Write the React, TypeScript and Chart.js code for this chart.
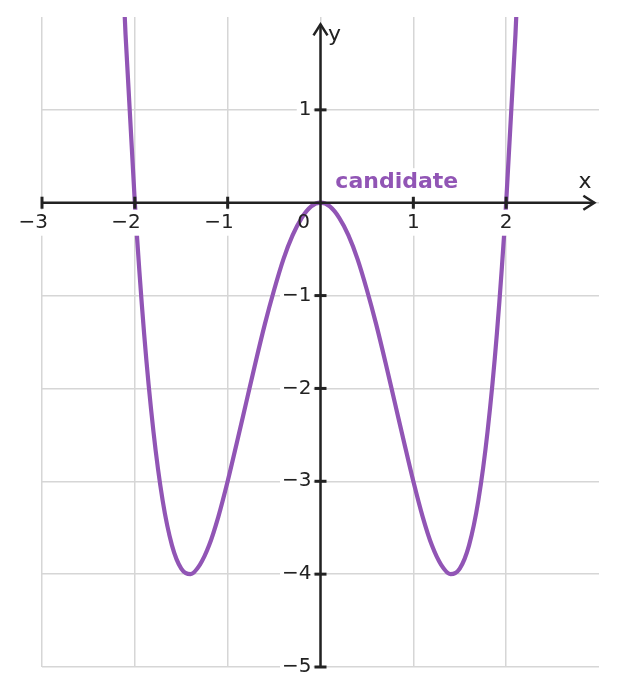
import React, { useEffect, useRef } from "react";
import { Chart, registerables } from "chart.js";

Chart.register(...registerables);

const xValues = [
  -2.2, -2.1, -2.0, -1.9, -1.8, -1.7, -1.6, -1.5, -1.4, -1.3, -1.2, -1.1, -1.0,
  -0.9, -0.8, -0.7, -0.6, -0.5, -0.4, -0.3, -0.2, -0.1, 0.0, 0.1, 0.2, 0.3, 0.4,
  0.5, 0.6, 0.7, 0.8, 0.9, 1.0, 1.1, 1.2, 1.3, 1.4, 1.5, 1.6, 1.7, 1.8, 1.9, 2.0,
  2.1, 2.2,
];
const yValues = [
  4.07, 1.81, 0.0, -1.41, -2.46, -3.21, -3.69, -3.94, -4.0, -3.9, -3.69, -3.38,
  -3.0, -2.58, -2.15, -1.72, -1.31, -0.94, -0.61, -0.35, -0.16, -0.04, 0.0,
  -0.04, -0.16, -0.35, -0.61, -0.94, -1.31, -1.72, -2.15, -2.58, -3.0, -3.38,
  -3.69, -3.9, -4.0, -3.94, -3.69, -3.21, -2.46, -1.41, 0.0, 1.81, 4.07,
];
const xTicks = [-3, -2, -1, 0, 1, 2];
const yTicks = [-5, -4, -3, -2, -1, 0, 1];
const xTickLabels = ["−3", "−2", "−1", "0", "1", "2"];
const yTickLabels = ["−5", "−4", "−3", "−2", "−1", "0", "1"];
const seriesName = "candidate";
const xRange = [-3, 3];
const yRange = [-5, 2];

const PURPLE = "#9155b5";
const INK = "#222222";
const FONT = "'DejaVu Sans', sans-serif";

function textWithBg(ctx: CanvasRenderingContext2D, text: string, x: number, y: number, align: CanvasTextAlign, font: string, color: string, bg = true) {
  ctx.font = font;
  ctx.textAlign = align;
  ctx.textBaseline = "middle";
  const m = ctx.measureText(text);
  const w = m.width;
  const h = parseInt(font.match(/(\d+)px/)![1], 10);
  let left = x;
  if (align === "center") left = x - w / 2;
  else if (align === "right") left = x - w;
  const pad = 2;
  if (bg) {
    ctx.fillStyle = "#ffffff";
    ctx.fillRect(left - pad, y - h * 0.55 - pad, w + pad * 2, h * 1.1 + pad * 2);
  }
  ctx.fillStyle = color;
  ctx.fillText(text, x, y);
}

const axesPlugin = {
  id: "centerAxes",
  afterDatasetsDraw(chart: any) {
    const ctx: CanvasRenderingContext2D = chart.ctx;
    const xs = chart.scales.x;
    const ys = chart.scales.y;
    const ox = xs.getPixelForValue(0);
    const oy = ys.getPixelForValue(0);
    ctx.save();
    ctx.strokeStyle = INK;
    ctx.lineWidth = 2.5;
    ctx.lineCap = "butt";
    // x axis
    const xStart = xs.getPixelForValue(xRange[0]);
    const xTip = xs.getPixelForValue(2.95);
    ctx.beginPath();
    ctx.moveTo(xStart, oy);
    ctx.lineTo(xTip, oy);
    ctx.stroke();
    ctx.beginPath();
    ctx.moveTo(xTip - 11, oy - 7);
    ctx.lineTo(xTip, oy);
    ctx.lineTo(xTip - 11, oy + 7);
    ctx.stroke();
    // y axis
    const yStart = ys.getPixelForValue(yRange[0]);
    const yTip = ys.getPixelForValue(1.92);
    ctx.beginPath();
    ctx.moveTo(ox, yStart);
    ctx.lineTo(ox, yTip);
    ctx.stroke();
    ctx.beginPath();
    ctx.moveTo(ox - 7, yTip + 11);
    ctx.lineTo(ox, yTip);
    ctx.lineTo(ox + 7, yTip + 11);
    ctx.stroke();
    // ticks
    ctx.lineWidth = 3;
    xTicks.forEach((v) => {
      if (v === 0) return;
      const px = xs.getPixelForValue(v);
      ctx.beginPath();
      ctx.moveTo(px, oy - 6);
      ctx.lineTo(px, oy + 6);
      ctx.stroke();
    });
    yTicks.forEach((v) => {
      if (v === 0) return;
      const py = ys.getPixelForValue(v);
      ctx.beginPath();
      ctx.moveTo(ox - 6, py);
      ctx.lineTo(ox + 6, py);
      ctx.stroke();
    });
    const tickFont = `20px ${FONT}`;
    xTicks.forEach((v, i) => {
      const px = xs.getPixelForValue(v);
      if (v === 0) {
        textWithBg(ctx, xTickLabels[i], ox - 17, oy + 20, "center", tickFont, INK, false);
      } else if (v < 0) {
        textWithBg(ctx, xTickLabels[i], px + 6, oy + 20, "right", tickFont, INK);
      } else {
        textWithBg(ctx, xTickLabels[i], px, oy + 20, "center", tickFont, INK);
      }
    });
    yTicks.forEach((v, i) => {
      if (v === 0) return;
      const py = ys.getPixelForValue(v);
      textWithBg(ctx, yTickLabels[i], ox - 9, py, "right", tickFont, INK);
    });
    // axis names
    ctx.font = `22px ${FONT}`;
    ctx.fillStyle = INK;
    ctx.textAlign = "center";
    ctx.textBaseline = "middle";
    ctx.fillText("x", xs.getPixelForValue(2.85), ys.getPixelForValue(0.22));
    ctx.textAlign = "left";
    ctx.fillText("y", xs.getPixelForValue(0.08), ys.getPixelForValue(1.8));
    // series label
    textWithBg(ctx, seriesName, xs.getPixelForValue(0.16), ys.getPixelForValue(0.22), "left", `bold 22px ${FONT}`, PURPLE);
    ctx.restore();
  },
};

export default function App() {
  const ref = useRef<HTMLCanvasElement>(null);
  useEffect(() => {
    document.body.style.margin = "0";
    const canvas = ref.current!;
    const points = xValues.map((x, i) => ({ x, y: yValues[i] }));
    const chart = new Chart(canvas, {
      type: "line",
      data: {
        datasets: [
          {
            label: seriesName,
            data: points,
            borderColor: PURPLE,
            borderWidth: 4.2,
            pointRadius: 0,
            fill: false,
            cubicInterpolationMode: "monotone",
            clip: 0,
          } as any,
        ],
      },
      options: {
        animation: false,
        responsive: false,
        devicePixelRatio: 1,
        layout: { padding: { left: 42, right: 18, top: 17, bottom: 29 } },
        plugins: { legend: { display: false }, tooltip: { enabled: false } },
        scales: {
          x: {
            type: "linear",
            min: xRange[0],
            max: xRange[1],
            afterBuildTicks: (s: any) => {
              s.ticks = xTicks.map((v) => ({ value: v }));
            },
            ticks: { display: false },
            grid: { color: "#d6d6d6", lineWidth: 1.5, drawTicks: false },
            border: { display: false },
          },
          y: {
            type: "linear",
            min: yRange[0],
            max: yRange[1],
            afterBuildTicks: (s: any) => {
              s.ticks = yTicks.map((v) => ({ value: v }));
            },
            ticks: { display: false },
            grid: { color: "#d6d6d6", lineWidth: 1.5, drawTicks: false },
            border: { display: false },
          },
        },
      },
      plugins: [axesPlugin],
    });
    return () => chart.destroy();
  }, []);
  return (
    <div style={{ width: 617, height: 696 }}>
      <canvas ref={ref} width={617} height={696} style={{ display: "block" }} />
    </div>
  );
}
